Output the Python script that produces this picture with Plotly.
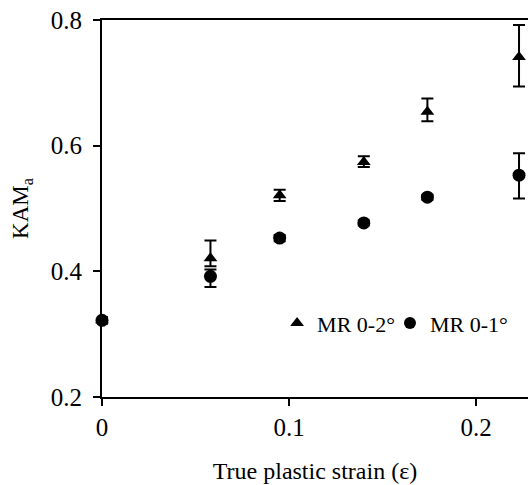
import plotly.graph_objects as go

strain = [0, 0.058, 0.095, 0.14, 0.174, 0.223]

kam_mr02 = [0.322, 0.421, 0.521, 0.574, 0.654, 0.741]
err_mr02_plus = [0.005, 0.028, 0.009, 0.009, 0.021, 0.051]
err_mr02_minus = [0.005, 0.013, 0.009, 0.008, 0.015, 0.047]

kam_mr01 = [0.322, 0.392, 0.453, 0.477, 0.518, 0.553]
err_mr01_plus = [0.005, 0.011, 0.005, 0.004, 0.004, 0.035]
err_mr01_minus = [0.005, 0.017, 0.005, 0.004, 0.004, 0.037]

x_ticks = [0, 0.1, 0.2]
x_tick_labels = ["0", "0.1", "0.2"]
y_ticks = [0.2, 0.4, 0.6, 0.8]
y_tick_labels = ["0.2", "0.4", "0.6", "0.8"]

FONT = "Liberation Serif, Times New Roman, serif"

fig = go.Figure()
fig.add_trace(go.Scatter(
    x=strain, y=kam_mr02, mode="markers", name="MR 0-2°",
    marker=dict(symbol="triangle-up", size=12, color="black"),
    error_y=dict(type="data", array=err_mr02_plus, arrayminus=err_mr02_minus,
                 symmetric=False, color="black", thickness=2, width=6),
    cliponaxis=False, legend="legend",
))
fig.add_trace(go.Scatter(
    x=strain, y=kam_mr01, mode="markers", name="MR 0-1°",
    marker=dict(symbol="circle", size=13, color="black"),
    error_y=dict(type="data", array=err_mr01_plus, arrayminus=err_mr01_minus,
                 symmetric=False, color="black", thickness=2, width=6),
    cliponaxis=False, legend="legend2",
))

legend_common = dict(orientation="h", xanchor="left", yanchor="middle",
                     bgcolor="rgba(0,0,0,0)", itemwidth=30, itemsizing="constant",
                     font=dict(family=FONT, size=22, color="black"))

fig.update_layout(
    width=528, height=485,
    margin=dict(l=102, r=0, t=20, b=88),
    paper_bgcolor="white", plot_bgcolor="white",
    font=dict(family=FONT, size=22, color="black"),
    showlegend=True,
    legend=dict(x=0.411, y=0.196, **legend_common),
    legend2=dict(x=0.676, y=0.196, **legend_common),
    xaxis=dict(
        range=[0, 0.2278], tickvals=x_ticks, ticktext=x_tick_labels,
        showgrid=False, zeroline=False, showline=True, linecolor="black", linewidth=2,
        mirror=True, ticks="outside", ticklen=7, tickwidth=2, tickcolor="black",
        automargin=False, ticklabeloverflow="allow",
        tickfont=dict(family=FONT, size=25, color="black"),
        title=dict(text="True plastic strain (ε)", standoff=22,
                   font=dict(family=FONT, size=24, color="black")),
    ),
    yaxis=dict(
        range=[0.2, 0.8], tickvals=y_ticks, ticktext=y_tick_labels,
        showgrid=False, zeroline=False, showline=True, linecolor="black", linewidth=2,
        ticks="outside", ticklen=7, tickwidth=2, tickcolor="black",
        automargin=False, ticklabeloverflow="allow", ticklabelstandoff=6,
        tickfont=dict(family=FONT, size=25, color="black"),
        title=dict(text="KAM<sub>a</sub>", standoff=16,
                   font=dict(family=FONT, size=23, color="black")),
    ),
)

fig.write_html(
    "out.html",
    config={"displayModeBar": False},
    post_script="document.body.style.margin='0';document.body.style.overflow='hidden';",
)
